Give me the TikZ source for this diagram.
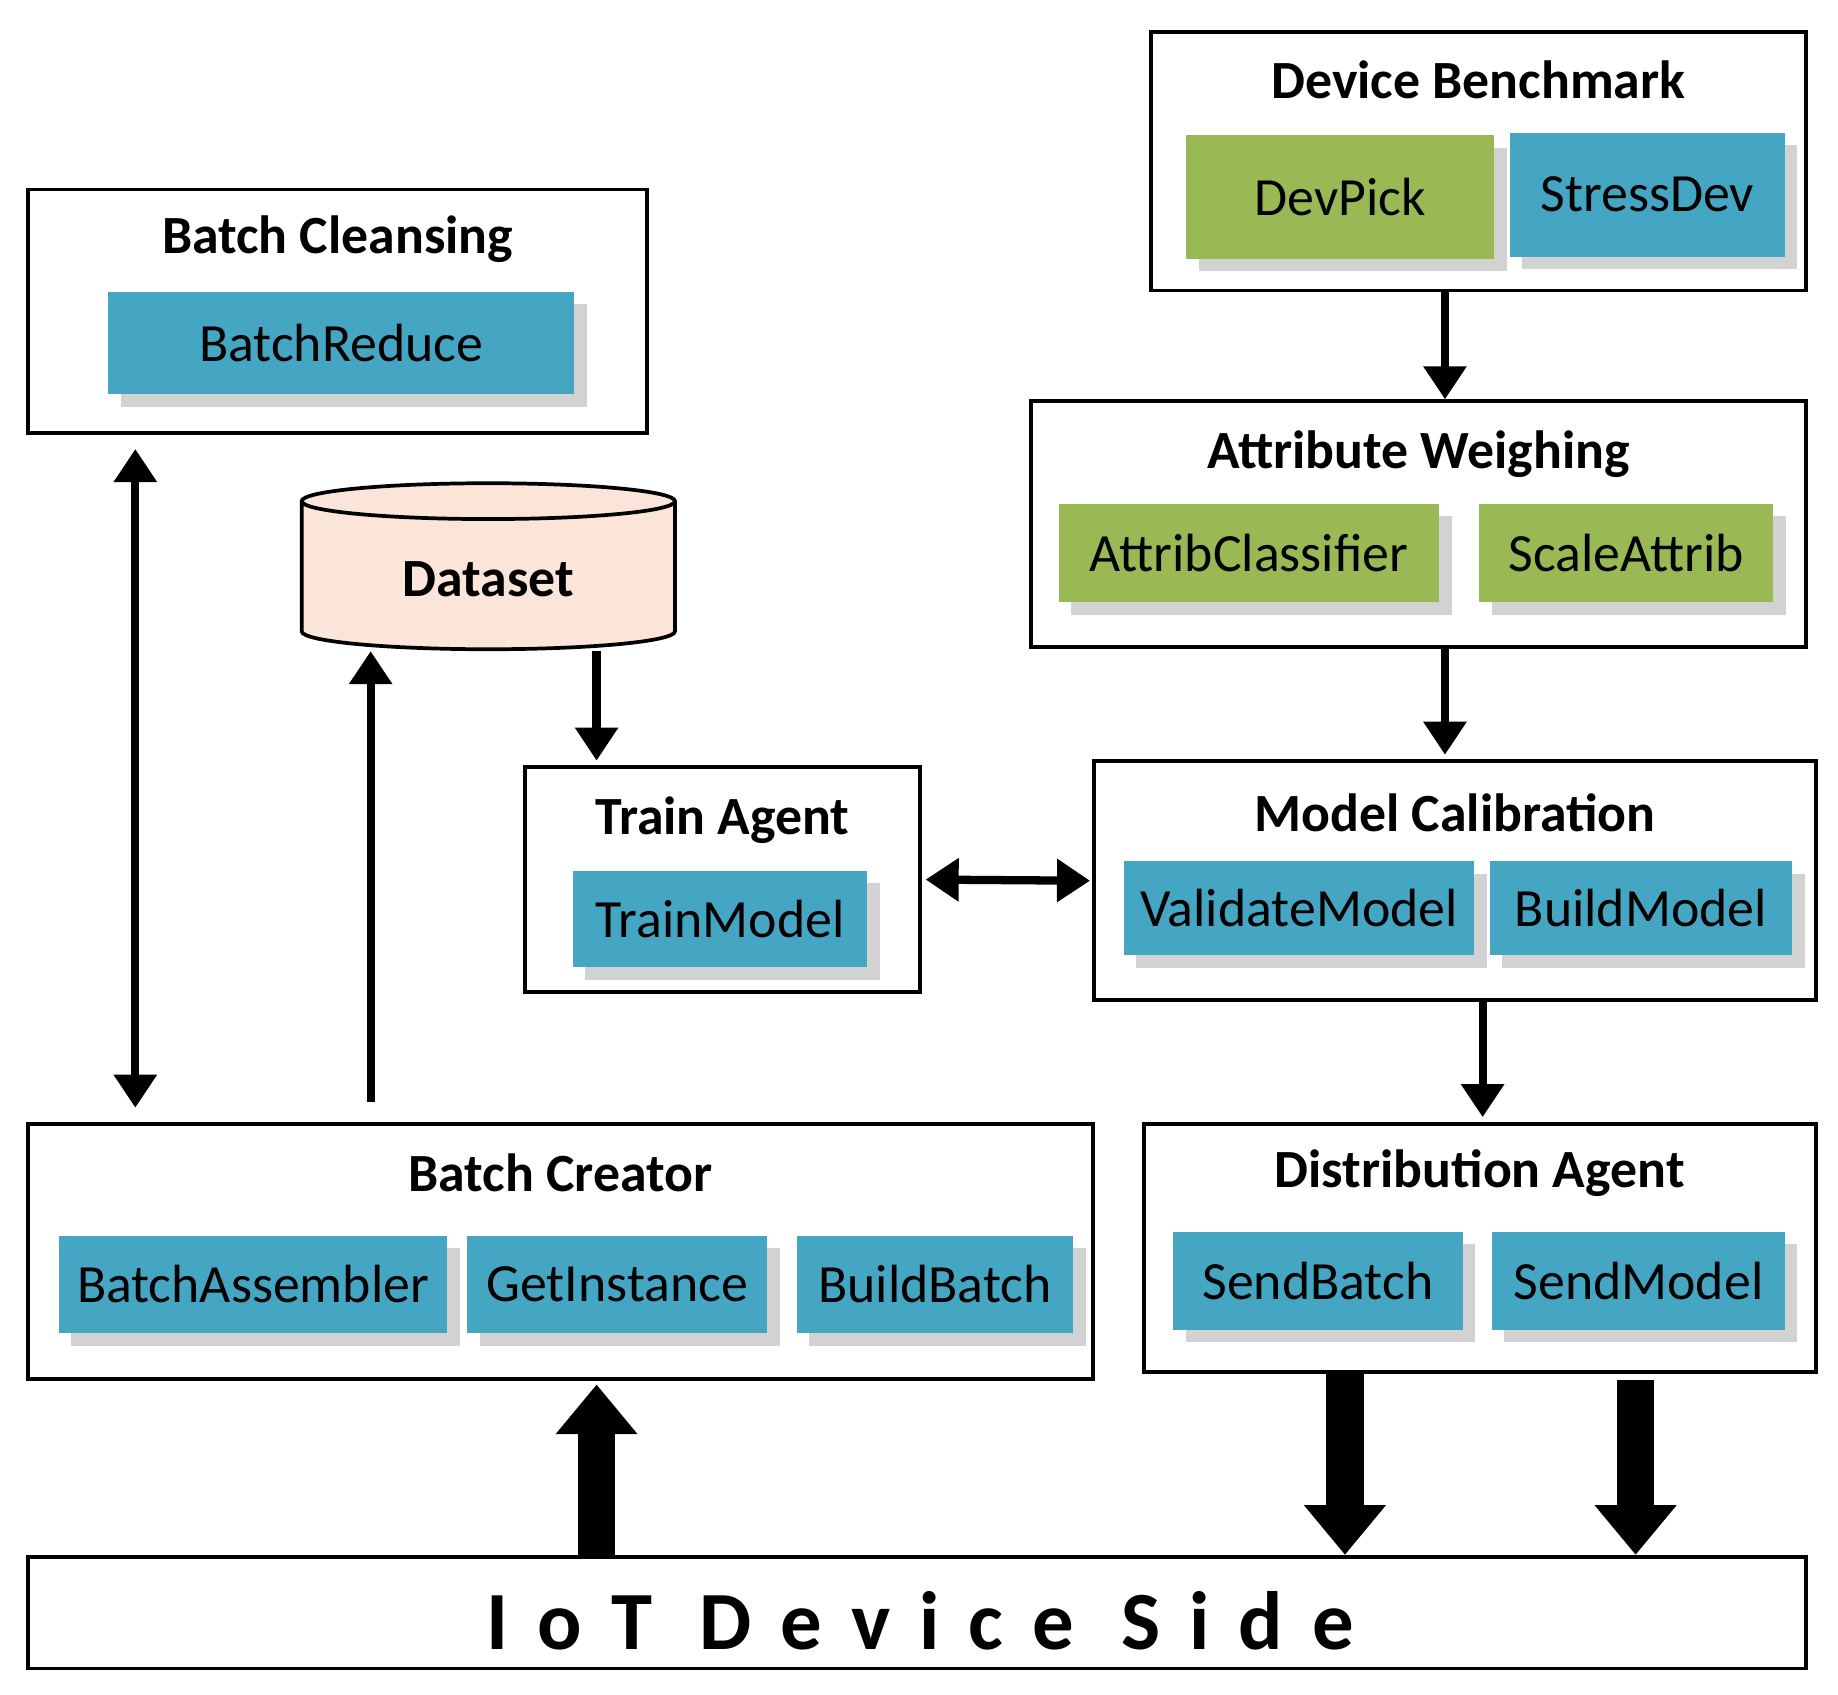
\documentclass[tikz,border=0pt]{standalone}
\usepackage{fontspec}
\setmainfont{Carlito}
\usetikzlibrary{shapes.geometric,shadows,arrows.meta}
\definecolor{compblue}{HTML}{45A6C4}
\definecolor{compgreen}{HTML}{98B954}
\definecolor{dbpeach}{HTML}{FBE5D8}
\tikzset{
  outer/.style 2 args={draw, line width=0.9pt, minimum width=#1*0.01cm, minimum height=#2*0.01cm, inner sep=0pt},
  comp/.style 2 args={fill=compblue, minimum width=#1*0.01cm, minimum height=#2*0.01cm, inner sep=0pt,
    drop shadow={shadow xshift=3pt, shadow yshift=-3pt, fill=gray!35, opacity=1},
    font=\fontsize{13}{15}\selectfont},
  title/.style={font=\bfseries\fontsize{13}{15}\selectfont},
  arr/.style={line width=2pt, -{Triangle[width=10pt,length=8pt]}},
  bigarr/.style={line width=9pt, -{Triangle[width=19pt,length=12pt]}},
}
\begin{document}
\begin{tikzpicture}[x=0.01cm, y=-0.01cm]
  \useasboundingbox (0,0) rectangle (1562,1440);

  % containers
  \node[outer={557}{220}] (bench) at (1256.5,137) {};
  \node[outer={526}{207}] (clean) at (287,264.5) {};
  \node[outer={659}{209}] (weigh) at (1205.5,445.5) {};
  \node[outer={336}{191}] (train) at (614,747.5) {};
  \node[outer={613}{203}] (calib) at (1236.5,748.5) {};
  \node[outer={905}{217}] (creator) at (476.5,1063.5) {};
  \node[outer={571}{211}] (distr) at (1257.5,1060.5) {};
  \node[outer={1511}{95}] (iot) at (779.5,1370.5) {};

  \node[title] at (1256.5,68) {Device Benchmark};
  \node[title] at (287,203) {Batch Cleansing};
  \node[title] at (1205.5,386) {Attribute Weighing};
  \node[title] at (614,697) {Train Agent};
  \node[title] at (1236.5,691) {Model Calibration};
  \node[title] at (476.5,997) {Batch Creator};
  \node[title] at (1257.5,997) {Distribution Agent};
  \node[font=\bfseries\fontsize{20}{22}\selectfont\addfontfeature{LetterSpace=35}] at (782,1377) {IoT Device Side};

  % components
  \node[comp={262}{105}, fill=compgreen] (devpick) at (1139,167.5) {DevPick};
  \node[comp={234}{105}] (stress) at (1400,165.5) {StressDev};
  \node[comp={396}{87}] (reduce) at (290,291.5) {BatchReduce};
  \node[comp={323}{84}, fill=compgreen] (classif) at (1061.5,470) {AttribClassifier};
  \node[comp={250}{84}, fill=compgreen] (scale) at (1382,470) {ScaleAttrib};
  \node[comp={250}{82}] (trainm) at (612,781) {TrainModel};
  \node[comp={298}{80}] (valid) at (1104,772) {ValidateModel};
  \node[comp={257}{80}] (buildm) at (1394.5,772) {BuildModel};
  \node[comp={330}{83}] (assem) at (215,1091.5) {BatchAssembler};
  \node[comp={255}{83}] (getinst) at (524.5,1091.5) {GetInstance};
  \node[comp={235}{83}] (buildb) at (794.5,1091.5) {BuildBatch};
  \node[comp={246}{83}] (sendb) at (1120,1088.5) {SendBatch};
  \node[comp={249}{83}] (sendm) at (1392.5,1088.5) {SendModel};

  % dataset
  \node[cylinder, shape border rotate=90, aspect=0.18, draw, line width=0.9pt, fill=dbpeach,
    minimum width=3.17cm, minimum height=1.41cm, title] (data) at (415,492.5) {Dataset};

  % helper columns
  \coordinate (c1) at (115,0);
  \coordinate (c2) at (315,0);
  \coordinate (c3) at (507,0);
  \coordinate (c4) at (1228,0);
  \coordinate (c5) at (1260,0);
  \coordinate (c6) at (1143,0);
  \coordinate (c7) at (1390,0);

  % connectors
  \draw[arr] (bench.south -| c4) -- (weigh.north -| c4);
  \draw[arr] (weigh.south -| c4) -- ([yshift=0.04cm]calib.north -| c4);
  \draw[arr] (calib.south -| c5) -- ([yshift=0.04cm]distr.north -| c5);
  \draw[arr, {Triangle[width=10pt,length=8pt]}-{Triangle[width=10pt,length=8pt]}]
    ([xshift=0.03cm]train.east) -- ([xshift=-0.02cm]calib.east -| calib.west);
  \draw[arr, {Triangle[width=10pt,length=8pt]}-{Triangle[width=10pt,length=8pt]}]
    ([yshift=-0.12cm]clean.south -| c1) -- ([yshift=0.12cm]creator.north -| c1);
  \draw[arr] ([yshift=0.17cm]creator.north -| c2) -- (data.south -| c2);
  \draw[arr] (data.south -| c3) -- ([yshift=0.04cm]train.north -| c3);
  \draw[bigarr] (iot.north -| c3) -- ([yshift=-0.03cm]creator.south -| c3);
  \draw[bigarr] (distr.south -| c6) -- (iot.north -| c6);
  \draw[bigarr] ([yshift=-0.05cm]distr.south -| c7) -- (iot.north -| c7);
\end{tikzpicture}
\end{document}
